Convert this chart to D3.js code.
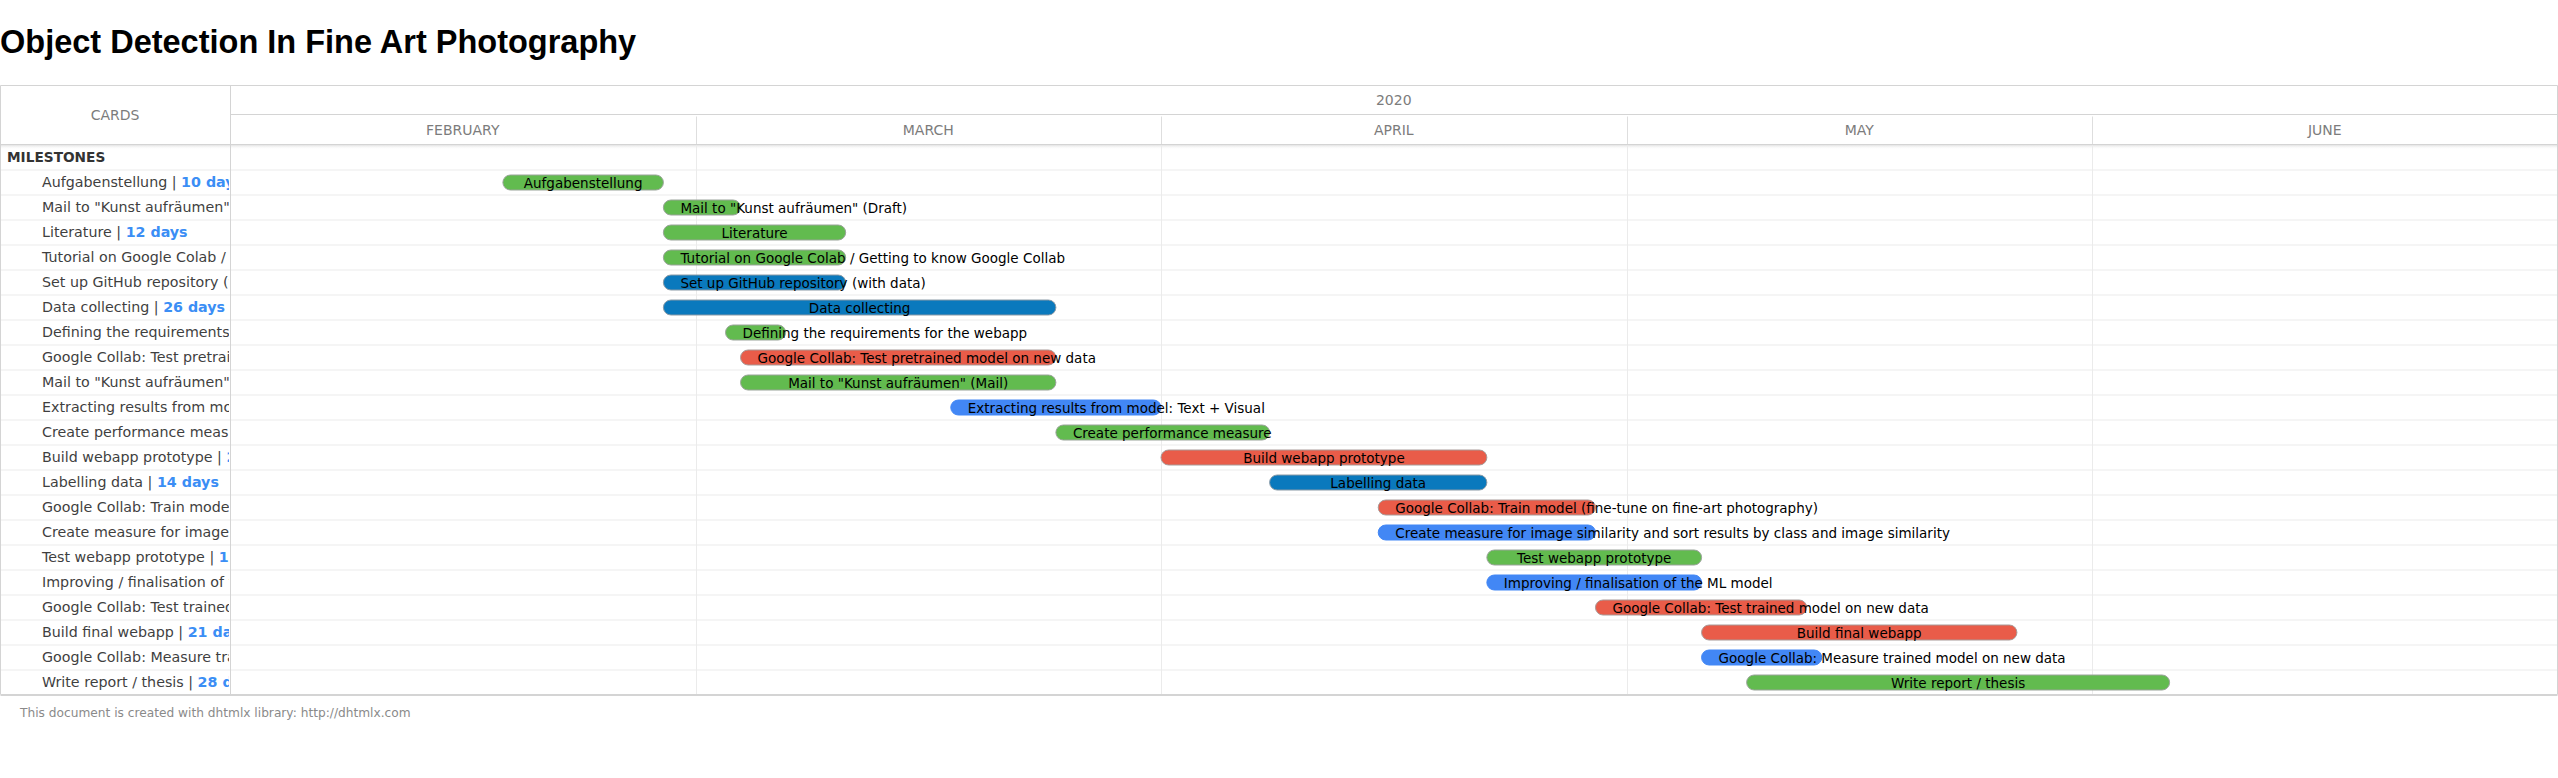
<!DOCTYPE html>
<html>
<head>
<meta charset="utf-8">
<title>Object Detection In Fine Art Photography</title>
<script src="https://cdn.jsdelivr.net/npm/d3@7"></script>
<style>
body { margin: 0; background: #fff; }
svg { display: block; }
.title { font: bold 32.5px "Liberation Sans", Arial, sans-serif; fill: #000; }
.head { font: 14px "DejaVu Sans", sans-serif; fill: #7c7c7c; }
.cell { font: 14.25px "DejaVu Sans", sans-serif; fill: #3f3f3f; }
.group { font: bold 13.7px "DejaVu Sans", sans-serif; fill: #333; }
.dur { font-weight: bold; fill: #3b8ef5; }
.bar-text { font: 13.5px "DejaVu Sans", sans-serif; fill: #000; }
.foot { font: 12.2px "DejaVu Sans", sans-serif; fill: #8a8a8a; }
</style>
</head>
<body>
<svg id="chart"></svg>
<script>
// chart data
var title = "Object Detection In Fine Art Photography";
var groupLabel = "MILESTONES";
var columnLabel = "CARDS";
var yearLabel = "2020";
var monthLabels = ["FEBRUARY", "MARCH", "APRIL", "MAY", "JUNE"];

var tasks = [
  "Aufgabenstellung",
  'Mail to "Kunst aufräumen" (Draft)',
  "Literature",
  "Tutorial on Google Colab / Getting to know Google Collab",
  "Set up GitHub repository (with data)",
  "Data collecting",
  "Defining the requirements for the webapp",
  "Google Collab: Test pretrained model on new data",
  'Mail to "Kunst aufräumen" (Mail)',
  "Extracting results from model: Text + Visual",
  "Create performance measure",
  "Build webapp prototype",
  "Labelling data",
  "Google Collab: Train model (fine-tune on fine-art photography)",
  "Create measure for image similarity and sort results by class and image similarity",
  "Test webapp prototype",
  "Improving / finalisation of the ML model",
  "Google Collab: Test trained model on new data",
  "Build final webapp",
  "Google Collab: Measure trained model on new data",
  "Write report / thesis"
];

var starts = [
  "2020-02-18", "2020-02-28", "2020-02-28", "2020-02-28", "2020-02-28",
  "2020-02-28", "2020-03-03", "2020-03-04", "2020-03-04", "2020-03-18",
  "2020-03-25", "2020-04-01", "2020-04-08", "2020-04-15", "2020-04-15",
  "2020-04-22", "2020-04-22", "2020-04-29", "2020-05-06", "2020-05-06",
  "2020-05-09"
];

var durations = [10, 5, 12, 12, 12, 26, 4, 21, 21, 14, 14, 21, 14, 14, 14, 14, 14, 14, 21, 8, 28];

var kinds = [
  "organisation", "organisation", "organisation", "organisation", "data",
  "data", "organisation", "model", "organisation", "analysis",
  "organisation", "model", "data", "model", "analysis",
  "organisation", "analysis", "model", "model", "analysis",
  "organisation"
];

var footer = "This document is created with dhtmlx library: http://dhtmlx.com";

// layout
var W = 2558, H = 778;
var gridLeft = 230, gridRight = 2557.5;
var headTop = 85.5, headMid = 114.5, headBottom = 144.5;
var rowH = 25, barH = 15;

var parse = d3.utcParse("%Y-%m-%d");
var data = tasks.map(function(t, i) {
  var s = parse(starts[i]);
  return { name: t, start: s, end: d3.utcDay.offset(s, durations[i]), days: durations[i], kind: kinds[i], row: i + 1 };
});

var svg = d3.select("#chart").attr("width", W).attr("height", H);

// each month gets the same width, like the dhtmlx month scale
var monthStarts = d3.utcMonths(new Date(Date.UTC(2020, 1, 1)), new Date(Date.UTC(2020, 6, 2)));
var x = d3.scaleUtc()
  .domain(monthStarts)
  .range(monthStarts.map(function(d, i) { return gridLeft + i * (gridRight - gridLeft) / (monthStarts.length - 1); }));

var y = d3.scaleBand()
  .domain(d3.range(tasks.length + 1))
  .range([headBottom, headBottom + rowH * (tasks.length + 1)]);
var bodyBottom = y.range()[1];

var color = d3.scaleOrdinal()
  .domain(["organisation", "data", "model", "analysis"])
  .range(["#62bb4f", "#0a79bd", "#e95c49", "#4287f5"]);
var stroke = d3.scaleOrdinal()
  .domain(["organisation", "data", "model", "analysis"])
  .range(["#9aa39a", "#8a9aa6", "#a89a98", "#4287f5"]);

svg.append("text").attr("class", "title")
  .attr("x", 0).attr("y", 53).text(title);

// header shadow
var defs = svg.append("defs");
var grad = defs.append("linearGradient").attr("id", "shade").attr("x1", 0).attr("x2", 0).attr("y1", 0).attr("y2", 1);
grad.append("stop").attr("offset", "0%").attr("stop-color", "#dcdcdc");
grad.append("stop").attr("offset", "100%").attr("stop-color", "#ffffff").attr("stop-opacity", 0);
svg.append("rect").attr("x", 0.5).attr("y", headBottom).attr("width", gridRight - 0.5).attr("height", 5).attr("fill", "url(#shade)");

defs.append("clipPath").attr("id", "leftclip")
  .append("rect").attr("x", 0).attr("y", headBottom).attr("width", gridLeft - 1).attr("height", bodyBottom - headBottom);

// row lines
svg.append("g").selectAll("line")
  .data(d3.range(1, tasks.length + 1))
  .join("line")
  .attr("x1", 0.5).attr("x2", gridRight)
  .attr("y1", function(d) { return y(d) + 0.5; })
  .attr("y2", function(d) { return y(d) + 0.5; })
  .attr("stroke", "#ebebeb");

// month lines in the body and the month row
var inner = monthStarts.slice(1, -1);
svg.append("g").selectAll("line")
  .data(inner)
  .join("line")
  .attr("x1", function(d) { return Math.round(x(d)) + 0.5; })
  .attr("x2", function(d) { return Math.round(x(d)) + 0.5; })
  .attr("y1", headBottom + 1).attr("y2", bodyBottom)
  .attr("stroke", "#ebebeb");
svg.append("g").selectAll("line")
  .data(inner)
  .join("line")
  .attr("x1", function(d) { return Math.round(x(d)) + 0.5; })
  .attr("x2", function(d) { return Math.round(x(d)) + 0.5; })
  .attr("y1", headMid + 2).attr("y2", headBottom)
  .attr("stroke", "#dedede");

// header frame
var frame = svg.append("g").attr("fill", "none").attr("stroke", "#d4d4d4");
frame.append("line").attr("x1", 0.5).attr("x2", gridRight).attr("y1", headTop).attr("y2", headTop);
frame.append("line").attr("x1", gridLeft + 0.5).attr("x2", gridRight).attr("y1", headMid).attr("y2", headMid);
frame.append("line").attr("x1", 0.5).attr("x2", gridRight).attr("y1", headBottom).attr("y2", headBottom);
frame.append("line").attr("x1", 0.5).attr("x2", 0.5).attr("y1", headTop).attr("y2", bodyBottom);
frame.append("line").attr("x1", gridRight).attr("x2", gridRight).attr("y1", headTop).attr("y2", bodyBottom);
frame.append("line").attr("x1", gridLeft + 0.5).attr("x2", gridLeft + 0.5).attr("y1", headTop).attr("y2", bodyBottom);
frame.append("line").attr("x1", 0.5).attr("x2", gridRight).attr("y1", bodyBottom + 0.5).attr("y2", bodyBottom + 0.5)
  .attr("stroke-width", 2);

// header labels
svg.append("text").attr("class", "head").attr("text-anchor", "middle")
  .attr("x", gridLeft / 2).attr("y", (headTop + headBottom) / 2 + 5).text(columnLabel);
svg.append("text").attr("class", "head").attr("text-anchor", "middle")
  .attr("x", (gridLeft + gridRight) / 2).attr("y", (headTop + headMid) / 2 + 5).text(yearLabel);
svg.append("g").selectAll("text")
  .data(monthStarts.slice(0, -1))
  .join("text")
  .attr("class", "head").attr("text-anchor", "middle")
  .attr("x", function(d, i) { return (x(d) + x(monthStarts[i + 1])) / 2; })
  .attr("y", (headMid + headBottom) / 2 + 5)
  .text(function(d, i) { return monthLabels[i]; });

// left grid
svg.append("text").attr("class", "group")
  .attr("x", 7).attr("y", y(0) + rowH / 2 + 5).text(groupLabel);

var left = svg.append("g").attr("clip-path", "url(#leftclip)");
var cells = left.selectAll("text")
  .data(data)
  .join("text")
  .attr("class", "cell")
  .attr("x", 42)
  .attr("y", function(d) { return y(d.row) + rowH / 2 + 5; });
cells.append("tspan").text(function(d) { return d.name + " | "; });
cells.append("tspan").attr("class", "dur").text(function(d) { return d.days + " days"; });

// bars
var bars = svg.append("g").selectAll("g")
  .data(data)
  .join("g")
  .attr("transform", function(d) { return "translate(" + x(d.start) + "," + (y(d.row) + (rowH - barH) / 2 + 0.5) + ")"; });

bars.append("rect")
  .attr("width", function(d) { return x(d.end) - x(d.start); })
  .attr("height", barH)
  .attr("rx", 7.5)
  .attr("fill", function(d) { return color(d.kind); })
  .attr("stroke", function(d) { return stroke(d.kind); })
  .attr("stroke-width", 1);

var pad = 17;
bars.append("text")
  .attr("class", "bar-text")
  .attr("y", barH / 2 + 5)
  .text(function(d) { return d.name; })
  .each(function(d) {
    var w = x(d.end) - x(d.start);
    var tw = this.getComputedTextLength();
    if (tw > w - 2 * pad) {
      d3.select(this).attr("x", pad).attr("text-anchor", "start");
    } else {
      d3.select(this).attr("x", w / 2).attr("text-anchor", "middle");
    }
  });

svg.append("text").attr("class", "foot")
  .attr("x", 20).attr("y", 717).text(footer);
</script>
</body>
</html>
